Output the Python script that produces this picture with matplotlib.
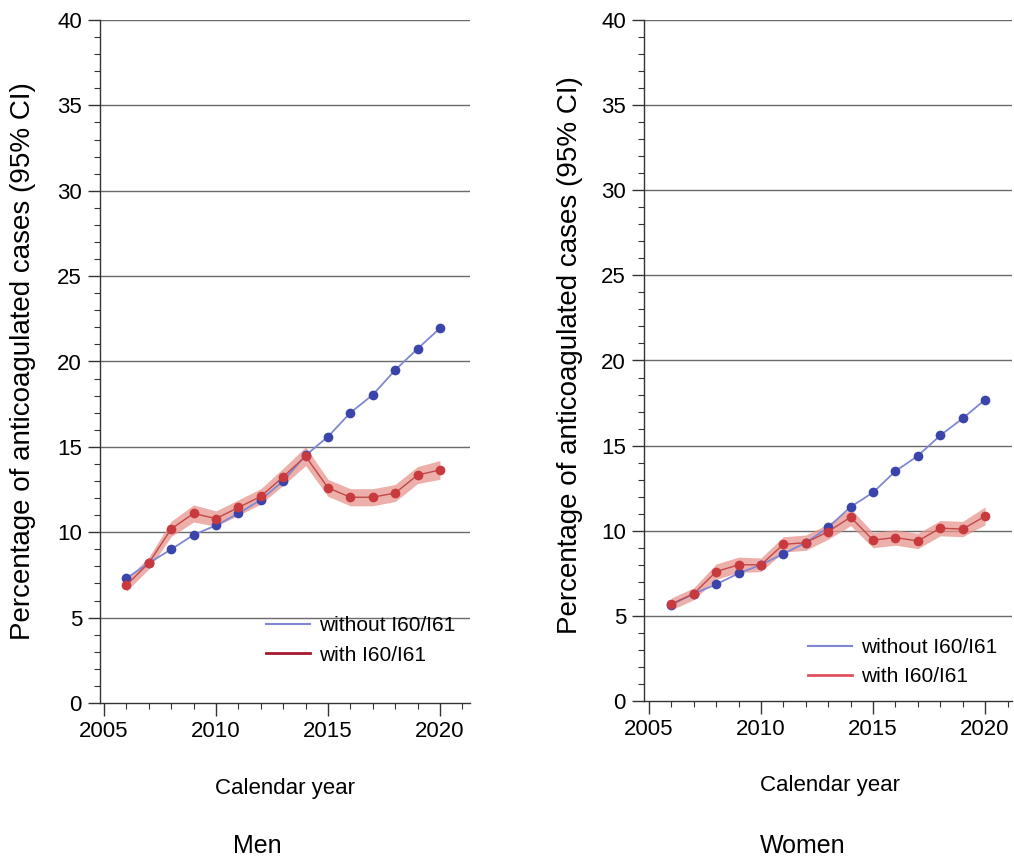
import matplotlib
matplotlib.use("Agg")
import matplotlib.pyplot as plt
from matplotlib.ticker import MultipleLocator
from matplotlib.lines import Line2D

plt.rcParams['font.family'] = ['Liberation Sans', 'DejaVu Sans']

years = list(range(2006, 2021))

men_without = [7.3, 8.2, 9.0, 9.85, 10.4, 11.1, 11.9, 13.0, 14.5, 15.6, 17.0, 18.05, 19.5, 20.75, 21.95]
men_with = [6.9, 8.2, 10.2, 11.1, 10.8, 11.45, 12.1, 13.25, 14.45, 12.6, 12.05, 12.05, 12.3, 13.35, 13.65]
men_with_lo = [6.55, 7.85, 9.75, 10.6, 10.35, 11.0, 11.65, 12.75, 13.9, 12.1, 11.55, 11.55, 11.8, 12.85, 13.1]
men_with_hi = [7.25, 8.55, 10.65, 11.6, 11.25, 11.9, 12.55, 13.75, 15.0, 13.1, 12.55, 12.55, 12.8, 13.85, 14.2]

women_without = [5.65, 6.3, 6.85, 7.5, 8.0, 8.65, 9.3, 10.2, 11.4, 12.25, 13.5, 14.4, 15.6, 16.6, 17.7]
women_with = [5.7, 6.3, 7.6, 8.0, 8.0, 9.2, 9.3, 9.95, 10.8, 9.45, 9.6, 9.4, 10.15, 10.1, 10.85]
women_with_lo = [5.35, 5.95, 7.15, 7.55, 7.6, 8.75, 8.85, 9.5, 10.3, 9.0, 9.15, 8.95, 9.7, 9.65, 10.35]
women_with_hi = [6.05, 6.65, 8.05, 8.45, 8.4, 9.65, 9.75, 10.4, 11.3, 9.9, 10.05, 9.85, 10.6, 10.55, 11.4]

y_ticks = [0, 5, 10, 15, 20, 25, 30, 35, 40]
x_ticks = [2005, 2010, 2015, 2020]
ylabel = "Percentage of anticoagulated cases (95% CI)"
xlabel = "Calendar year"
legend_labels = ["without I60/I61", "with I60/I61"]

BLUE_LINE = "#8088d4"
BLUE_MK = "#3a44aa"
RED_LINE = "#c04848"
RED_MK = "#c83a3e"
BAND = "#e8948e"

fig = plt.figure(figsize=(10.14, 8.63), dpi=100)

def panel(rect, xlim, without, withv, lo, hi, leg_red, leg_y):
    ax = fig.add_axes(rect)
    ax.set_xlim(*xlim)
    ax.set_ylim(0, 40)
    for y in y_ticks[1:]:
        ax.axhline(y, color="#6a6a6a", lw=1.0, zorder=1)
    ax.fill_between(years, lo, hi, color=BAND, alpha=0.75, lw=0, zorder=2)
    ax.plot(years, without, color=BLUE_LINE, lw=1.3, zorder=3)
    ax.plot(years, without, 'o', color=BLUE_MK, ms=7, mec='none', zorder=4)
    ax.plot(years, withv, color=RED_LINE, lw=1.0, zorder=5)
    ax.plot(years, withv, 'o', color=RED_MK, ms=7, mec='none', zorder=6)
    for s in ['top', 'right']:
        ax.spines[s].set_visible(False)
    for s in ['left', 'bottom']:
        ax.spines[s].set_color("#333333")
        ax.spines[s].set_linewidth(1.0)
    ax.set_yticks(y_ticks)
    ax.set_xticks(x_ticks)
    ax.yaxis.set_minor_locator(MultipleLocator(1))
    ax.xaxis.set_minor_locator(MultipleLocator(1))
    ax.tick_params(which='major', direction='out', length=9, width=1, color="#333333", labelsize=16, pad=4)
    ax.tick_params(which='minor', direction='out', length=4, width=0.8, color="#333333")
    handles = [Line2D([], [], color=BLUE_LINE, lw=1.5), Line2D([], [], color=leg_red, lw=2.0)]
    ax.legend(handles, legend_labels, loc='lower right', frameon=False, fontsize=15,
              handlelength=2.1, handletextpad=0.45, labelspacing=0.5,
              bbox_to_anchor=(1.0, leg_y), borderaxespad=0.3)
    return ax

ax1 = panel([100/1014, 1 - 703/863, 370/1014, 683/863], (2004.82, 2021.34),
            men_without, men_with, men_with_lo, men_with_hi, "#a8182e", 0.035)
ax2 = panel([644/1014, 1 - 701/863, 368/1014, 681/863], (2004.78, 2021.2),
            women_without, women_with, women_with_lo, women_with_hi, "#e05060", 0.0)

fig.text(23/1014, 1 - 361/863, ylabel, rotation=90, ha='center', va='center', fontsize=20)
fig.text(570/1014, 1 - 355/863, ylabel, rotation=90, ha='center', va='center', fontsize=20)
fig.text(285/1014, 1 - 788/863, xlabel, ha='center', va='center', fontsize=16)
fig.text(830/1014, 1 - 785/863, xlabel, ha='center', va='center', fontsize=16)
fig.text(257/1014, 1 - 846/863, "Men", ha='center', va='center', fontsize=18)
fig.text(803/1014, 1 - 846/863, "Women", ha='center', va='center', fontsize=18)

fig.savefig("out.png", dpi=100)
